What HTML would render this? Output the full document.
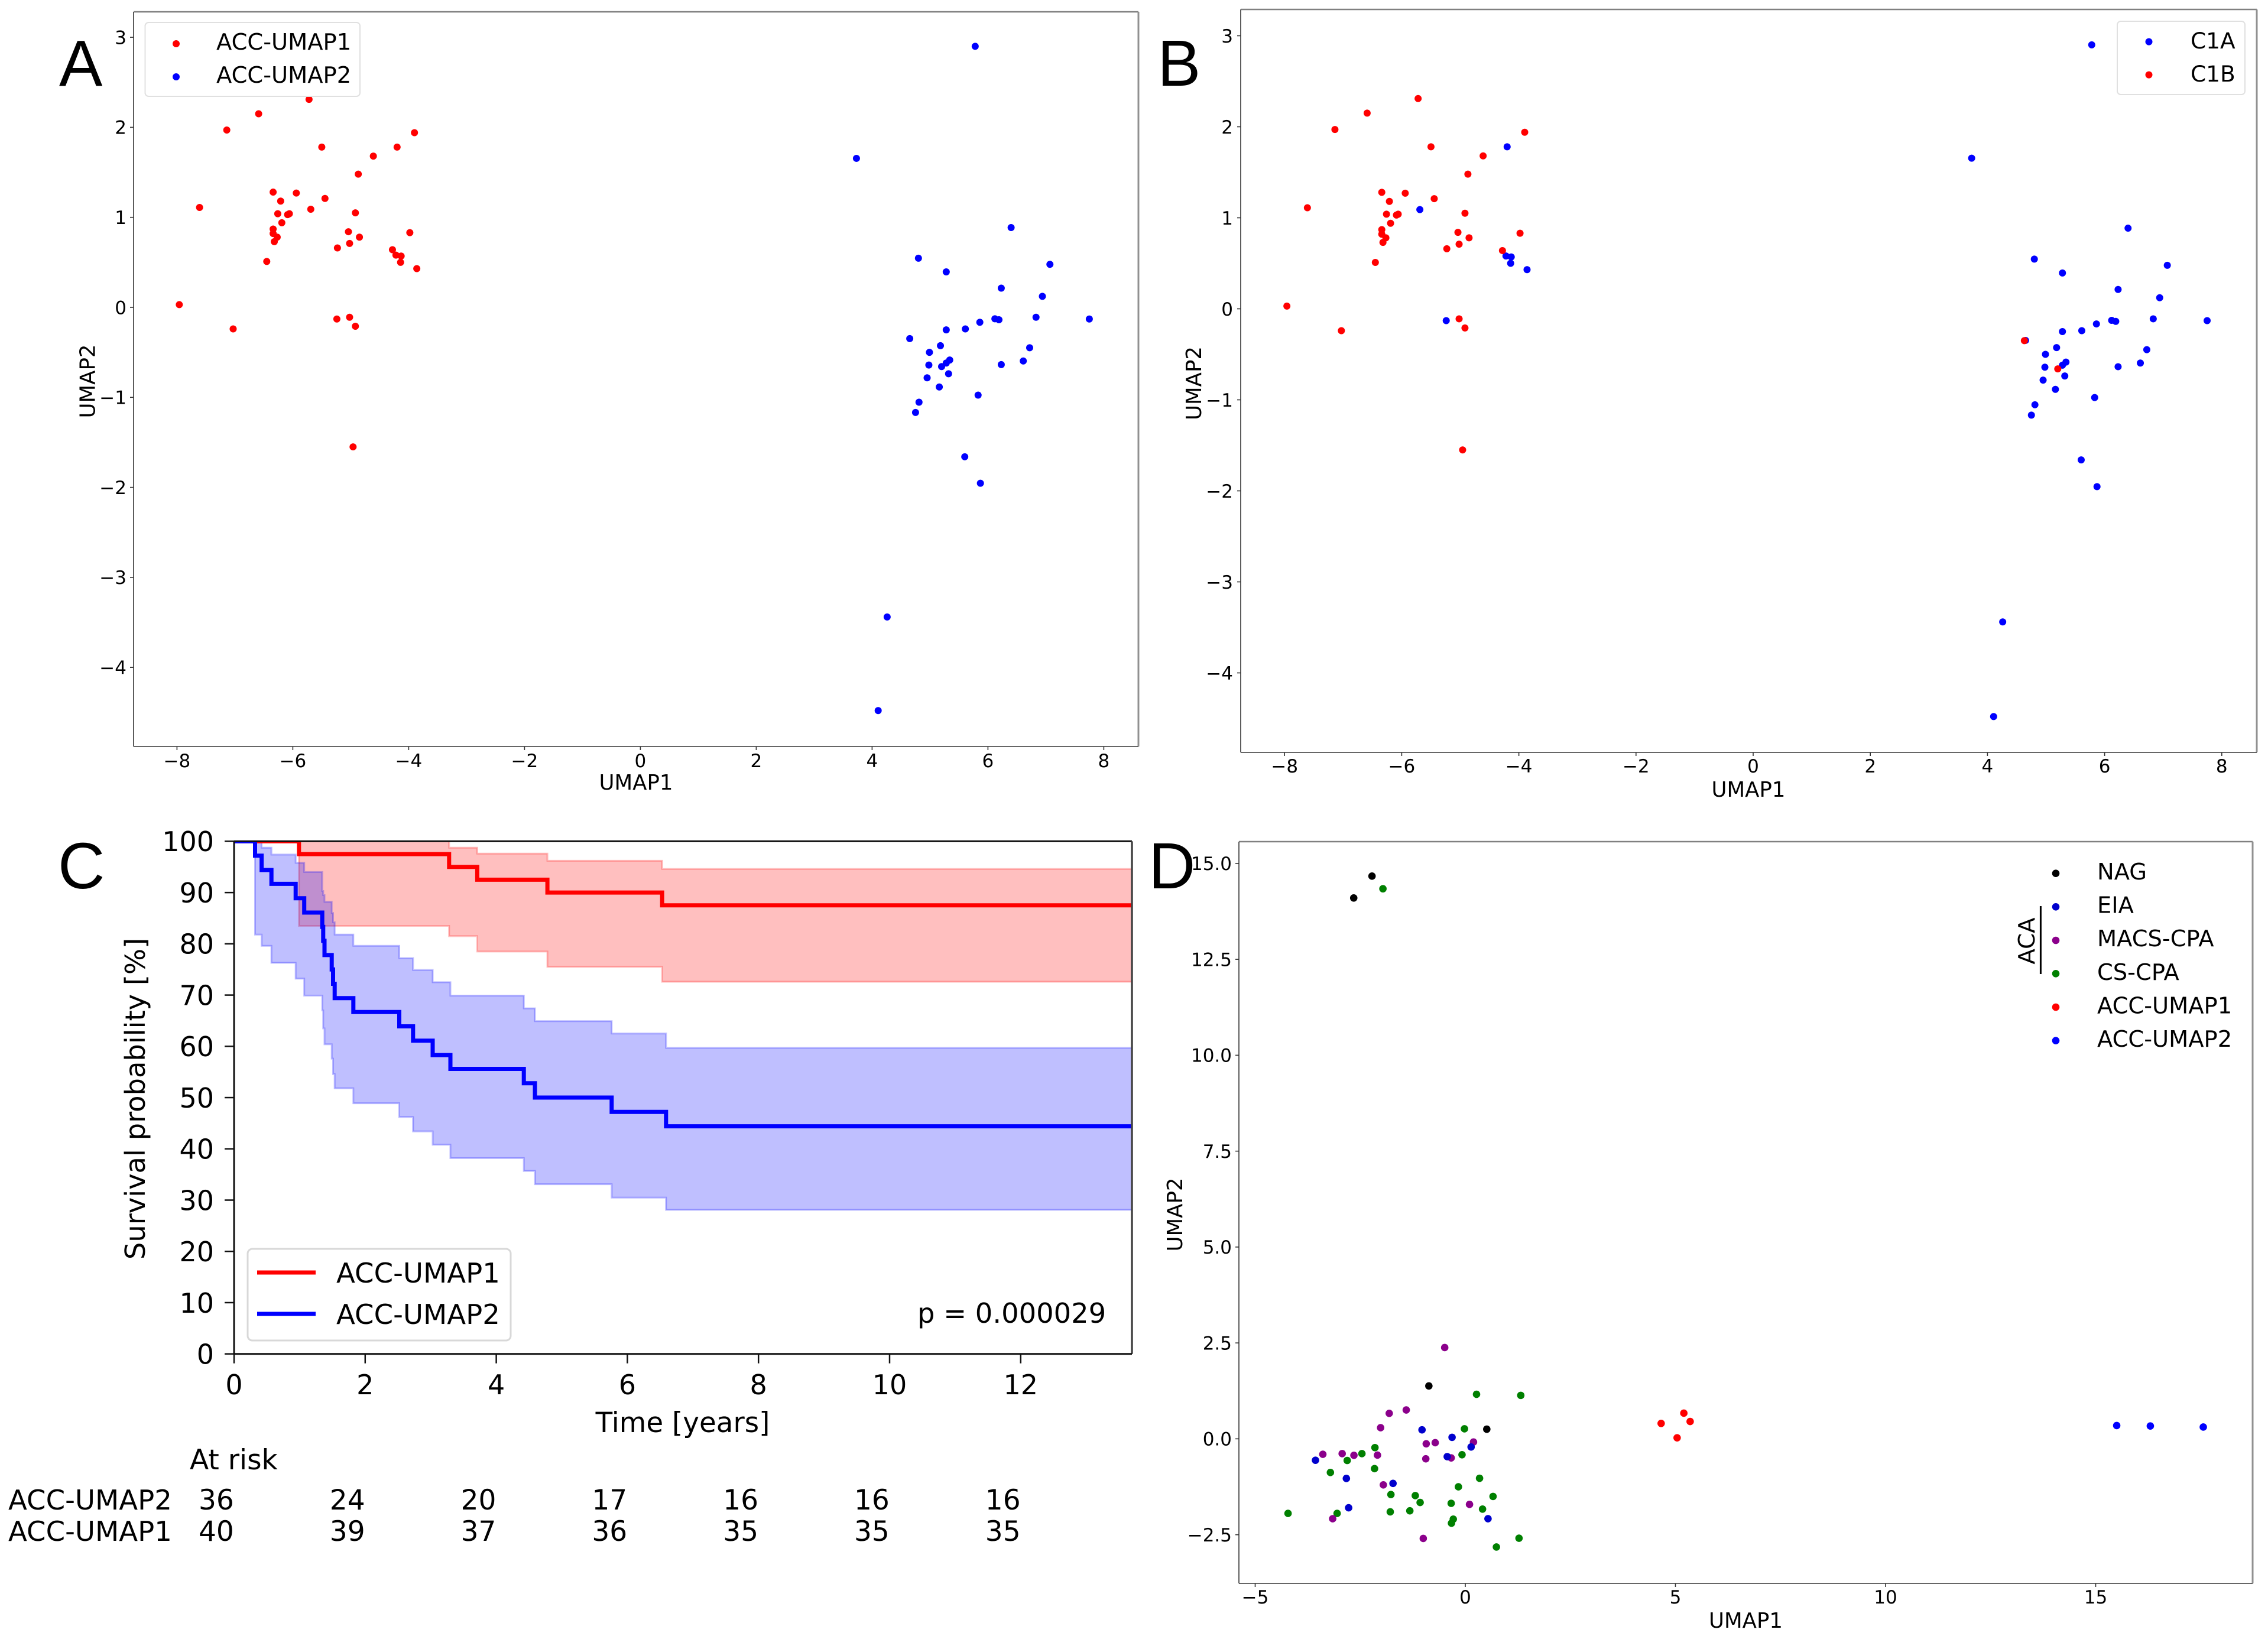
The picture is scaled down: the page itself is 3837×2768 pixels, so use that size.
<!DOCTYPE html>
<html lang="en">
<head>
<meta charset="utf-8">
<title>ACC UMAP and survival figure</title>
<style>
html,body{margin:0;padding:0;background:#fff;width:3837px;height:2768px;overflow:hidden}
svg{display:block}
text{font-family:"DejaVu Sans","Liberation Sans",sans-serif;fill:#000}
.letter{font-family:"Liberation Sans",sans-serif;font-size:110px}
.leg{font-size:38.4px}
.lab{font-size:35.5px}
.kmleg{font-size:46.6px}
</style>
</head>
<body>
<svg id="figure" xmlns="http://www.w3.org/2000/svg" width="3837" height="2768" viewBox="0 0 3837 2768">
  <rect x="0" y="0" width="3837" height="2768" fill="#fff"/>
  <defs>
    <clipPath id="kmClip"><rect x="396" y="1423" width="1519" height="868"/></clipPath>
  </defs>

  <g id="panelA"></g>
  <g id="panelB"></g>
  <g id="panelC"></g>
  <g id="panelD"></g>

  <g id="staticLayer">
    <text class="letter" x="100" y="145">A</text>
    <text class="letter" x="1958" y="145">B</text>
    <text class="letter" x="98" y="1503">C</text>
    <text class="letter" x="1943" y="1503">D</text>

    <text class="lab" x="1076" y="1336" text-anchor="middle">UMAP1</text>
    <text class="lab" transform="translate(160.7 645) rotate(-90)" text-anchor="middle">UMAP2</text>
    <text class="lab" x="2958" y="1348" text-anchor="middle">UMAP1</text>
    <text class="lab" transform="translate(2032 648.5) rotate(-90)" text-anchor="middle">UMAP2</text>
    <text class="lab" x="2953.5" y="2754" text-anchor="middle">UMAP1</text>
    <text class="lab" transform="translate(2000 2055) rotate(-90)" text-anchor="middle">UMAP2</text>

    <text font-size="46.4" transform="translate(245 1859) rotate(-90)" text-anchor="middle">Survival probability [%]</text>
    <text font-size="46.8" x="1155" y="2423" text-anchor="middle">Time [years]</text>
    <text font-size="46.4" x="1552" y="2238">p = 0.000029</text>

    <text font-size="47" x="321" y="2486">At risk</text>
    <text font-size="46.6" x="14" y="2554">ACC-UMAP2</text>
    <text font-size="46.6" x="14" y="2607">ACC-UMAP1</text>

    <g>
      <rect x="245.5" y="38" width="363.5" height="125" rx="6" fill="#fff" fill-opacity="0.8" stroke="#e0e0e0" stroke-width="2"/>
      <circle cx="298" cy="74" r="6" fill="#ff0000"/>
      <text class="leg" x="366" y="84">ACC-UMAP1</text>
      <circle cx="298" cy="130" r="6" fill="#0000ff"/>
      <text class="leg" x="366" y="140">ACC-UMAP2</text>
    </g>

    <g>
      <rect x="3582" y="36" width="216" height="124" rx="6" fill="#fff" fill-opacity="0.8" stroke="#e0e0e0" stroke-width="2"/>
      <circle cx="3635.5" cy="70.6" r="6" fill="#0000ff"/>
      <text font-size="37.5" x="3706" y="82">C1A</text>
      <circle cx="3635.5" cy="126.6" r="6" fill="#ff0000"/>
      <text font-size="37.5" x="3706" y="138">C1B</text>
    </g>

    <g>
      <rect x="419" y="2113" width="445" height="155" rx="8" fill="#fff" fill-opacity="0.8" stroke="#d8d8d8" stroke-width="3"/>
      <line x1="435" x2="534" y1="2153" y2="2153" stroke="#ff0000" stroke-width="7"/>
      <text class="kmleg" x="569" y="2170">ACC-UMAP1</text>
      <line x1="435" x2="534" y1="2223" y2="2223" stroke="#0000ff" stroke-width="7"/>
      <text class="kmleg" x="569" y="2240">ACC-UMAP2</text>
    </g>

    <g>
      <circle cx="3478" cy="1477.7" r="6.3" fill="#000"/>
      <text class="leg" x="3548" y="1488">NAG</text>
      <circle cx="3478" cy="1534.3" r="6.3" fill="#0000cd"/>
      <text class="leg" x="3548" y="1544.6">EIA</text>
      <circle cx="3478" cy="1591" r="6.3" fill="#8b008b"/>
      <text class="leg" x="3548" y="1601.2">MACS-CPA</text>
      <circle cx="3478" cy="1647.3" r="6.3" fill="#008000"/>
      <text class="leg" x="3548" y="1657.8">CS-CPA</text>
      <circle cx="3478" cy="1704" r="6.3" fill="#ff0000"/>
      <text class="leg" x="3548" y="1714.4">ACC-UMAP1</text>
      <circle cx="3478" cy="1760.7" r="6.3" fill="#0000ff"/>
      <text class="leg" x="3548" y="1771">ACC-UMAP2</text>
      <text font-size="38.7" transform="translate(3442 1592) rotate(-90)" text-anchor="middle">ACA</text>
      <line x1="3452.4" x2="3452.4" y1="1533" y2="1648" stroke="#000" stroke-width="3"/>
    </g>
  </g>
</svg>

<script>
/* ---------- Panel A data ---------- */
const acc1X = [-5.72,-6.59,-7.14,-5.50,-4.20,-3.90,-4.61,-4.87,-6.34,-5.94,-6.21,-5.445,-7.61,-5.69,-6.26,-6.09,-6.06,-4.92,-6.19,-6.34,-6.34,-6.27,-6.32,-5.04,-4.85,-3.98,-5.23,-5.02,-4.28,-4.22,-4.13,-4.14,-3.86,-6.45,-7.96,-7.03,-5.24,-5.02,-4.92,-4.96];
const acc1Y = [2.31,2.15,1.97,1.78,1.78,1.94,1.68,1.48,1.28,1.27,1.18,1.21,1.11,1.09,1.04,1.03,1.04,1.05,0.94,0.87,0.82,0.78,0.73,0.84,0.78,0.83,0.66,0.71,0.64,0.58,0.57,0.50,0.43,0.51,0.03,-0.24,-0.13,-0.11,-0.21,-1.55];
const acc2X = [5.78,3.73,6.40,4.80,5.28,7.07,6.23,6.94,6.83,7.75,6.12,6.19,5.86,5.61,5.28,4.65,5.18,4.99,6.72,6.61,6.23,4.98,5.34,5.28,5.20,5.32,4.95,5.16,5.83,4.81,4.75,5.60,5.87,4.26,4.105];
const acc2Y = [2.90,1.655,0.886,0.546,0.394,0.478,0.213,0.122,-0.11,-0.13,-0.127,-0.138,-0.166,-0.24,-0.25,-0.347,-0.426,-0.50,-0.449,-0.596,-0.636,-0.641,-0.585,-0.619,-0.658,-0.738,-0.783,-0.885,-0.975,-1.054,-1.168,-1.66,-1.954,-3.44,-4.48];
const umapAXTicks = [-8,-6,-4,-2,0,2,4,6,8];
const umapAYTicks = [-4,-3,-2,-1,0,1,2,3];

/* ---------- Panel B data ---------- */
const c1aX = [-4.20,-5.69,-5.24,-4.22,-4.13,-4.14,-3.86,5.78,3.73,6.40,4.80,5.28,7.07,6.23,6.94,6.83,7.75,6.12,6.19,5.86,5.61,5.28,4.65,5.18,4.99,6.72,6.61,6.23,4.98,5.34,5.28,5.32,4.95,5.16,5.83,4.81,4.75,5.60,5.87,4.26,4.105];
const c1aY = [1.78,1.09,-0.13,0.58,0.57,0.50,0.43,2.90,1.655,0.886,0.546,0.394,0.478,0.213,0.122,-0.11,-0.13,-0.127,-0.138,-0.166,-0.24,-0.25,-0.347,-0.426,-0.50,-0.449,-0.596,-0.636,-0.641,-0.585,-0.619,-0.738,-0.783,-0.885,-0.975,-1.054,-1.168,-1.66,-1.954,-3.44,-4.48];
const c1bX = [-5.72,-6.59,-7.14,-5.50,-3.90,-4.61,-4.87,-6.34,-5.94,-6.21,-5.445,-7.61,-6.26,-6.09,-6.06,-4.92,-6.19,-6.34,-6.34,-6.27,-6.32,-5.04,-4.85,-3.98,-5.23,-5.02,-4.28,-6.45,-7.96,-7.03,-5.02,-4.92,-4.96,4.63,5.20];
const c1bY = [2.31,2.15,1.97,1.78,1.94,1.68,1.48,1.28,1.27,1.18,1.21,1.11,1.04,1.03,1.04,1.05,0.94,0.87,0.82,0.78,0.73,0.84,0.78,0.83,0.66,0.71,0.64,0.51,0.03,-0.24,-0.11,-0.21,-1.55,-0.35,-0.66];
const umapBXTicks = [-8,-6,-4,-2,0,2,4,6,8];
const umapBYTicks = [-4,-3,-2,-1,0,1,2,3];

/* ---------- Panel C data ---------- */
const blueTimes = [0,0.32,0.42,0.57,0.94,1.07,1.345,1.36,1.38,1.49,1.51,1.535,1.82,2.52,2.73,3.03,3.30,4.42,4.59,5.76,6.59];
const blueSurvival = [100,97.2,94.4,91.7,88.9,86.1,83.3,80.6,77.8,75,72.2,69.4,66.7,63.9,61.1,58.3,55.6,52.8,50,47.2,44.4];
const blueUpper = [100,100,98.75,97.4,95.8,94,90.3,89.5,88.2,86,84.2,81.8,79.6,77.2,74.9,72.5,69.9,67.4,64.9,62.5,59.7];
const blueLower = [100,81.8,79.6,76.3,73.2,69.9,67,63.5,60.4,57.6,54.6,51.8,48.9,46.2,43.4,40.8,38.2,35.7,33.1,30.5,28.1];
const redTimes = [0,0.99,3.28,3.71,4.78,6.53];
const redSurvival = [100,97.5,95,92.5,90,87.5];
const redUpper = [100,100,98.75,97.6,96.2,94.6];
const redLower = [100,83.5,81.5,78.5,75.5,72.6];
const kmEndTime = 13.7;
const kmXTicks = [0,2,4,6,8,10,12];
const kmYTicks = [0,10,20,30,40,50,60,70,80,90,100];
const atRiskTimes = [0,2,4,6,8,10,12];
const atRiskUmap2 = [36,24,20,17,16,16,16];
const atRiskUmap1 = [40,39,37,36,35,35,35];

/* ---------- Panel D data ---------- */
const nagX = [-0.867,0.511,-2.22,-2.655];
const nagY = [1.379,0.251,14.67,14.10];
const eiaX = [-1.03,-0.315,0.138,-3.565,-0.43,-2.83,-1.72,-2.776,0.54];
const eiaY = [0.234,0.039,-0.213,-0.559,-0.464,-1.033,-1.162,-1.798,-2.083];
const macsX = [-0.49,-1.405,-1.81,-2.015,-0.93,-0.716,0.195,-3.39,-2.93,-2.65,-2.09,-0.94,-0.336,-1.95,0.10,-3.156,-1.00];
const macsY = [2.38,0.753,0.664,0.29,-0.129,-0.101,-0.084,-0.403,-0.386,-0.43,-0.425,-0.52,-0.497,-1.20,-1.709,-2.083,-2.597];
const csX = [0.267,1.32,-0.02,-2.15,-2.46,-2.81,-0.078,-3.21,-2.16,0.339,-0.164,-1.77,-1.19,-1.075,0.66,-0.336,0.41,-1.32,-1.786,-4.218,-3.05,-0.286,-0.329,1.278,0.74,-1.96];
const csY = [1.161,1.133,0.262,-0.229,-0.386,-0.564,-0.414,-0.877,-0.777,-1.028,-1.251,-1.452,-1.48,-1.659,-1.502,-1.681,-1.832,-1.877,-1.904,-1.944,-1.944,-2.094,-2.20,-2.591,-2.82,14.34];
const dAcc1X = [5.20,5.35,4.66,5.04];
const dAcc1Y = [0.669,0.452,0.402,0.027];
const dAcc2X = [15.50,16.30,17.56];
const dAcc2Y = [0.346,0.335,0.307];
const umapDXTicks = [-5,0,5,10,15];
const umapDYTicks = [-2.5,0,2.5,5,7.5,10,12.5,15];

/* ---------- Helpers ---------- */
const SVG_NS = 'http://www.w3.org/2000/svg';
function make(tag, attrs, parent, name) {
  const el = document.createElementNS(SVG_NS, tag);
  for (const k in attrs) el.setAttribute(k, attrs[k]);
  
  
  parent.appendChild(el);
  return el;
}
function fmt(v, digits) {
  const s = Math.abs(v).toFixed(digits);
  return (v < 0 ? '\u2212' : '') + s;
}
function drawScatter(parent, xs, ys, sx, sy, color, r, name) {
  xs.forEach(function (x, i) {
    make('circle', {cx: sx(x), cy: sy(ys[i]), r: r, fill: color}, parent, name);
  });
}
function drawAxes(parent, box, sx, sy, xTicks, yTicks, o) {
  const prefix = o.prefix;
  const L = box.left, R = box.right, T = box.top, B = box.bottom;
  make('line', {x1: L, x2: R, y1: T, y2: T, stroke: o.topColor, 'stroke-width': o.topWidth}, parent, prefix + '-spine-top');
  make('line', {x1: R, x2: R, y1: T, y2: B, stroke: o.rightColor, 'stroke-width': o.rightWidth}, parent, prefix + '-spine-right');
  make('line', {x1: L, x2: L, y1: T, y2: B, stroke: o.axisColor, 'stroke-width': o.axisWidth}, parent, prefix + '-spine-left');
  make('line', {x1: L, x2: R, y1: B, y2: B, stroke: o.axisColor, 'stroke-width': o.axisWidth}, parent, prefix + '-spine-bottom');
  xTicks.forEach(function (v) {
    const x = sx(v);
    make('line', {x1: x, x2: x, y1: B, y2: B + o.tickLen, stroke: o.axisColor, 'stroke-width': o.tickWidth}, parent, prefix + '-x-tick');
    const t = make('text', {x: x, y: o.xLabelY, 'text-anchor': 'middle', 'font-size': o.fontSize}, parent, prefix + '-x-tick-label');
    t.textContent = fmt(v, o.xDigits);
  });
  yTicks.forEach(function (v) {
    const y = sy(v);
    make('line', {x1: L - o.tickLen, x2: L, y1: y, y2: y, stroke: o.axisColor, 'stroke-width': o.tickWidth}, parent, prefix + '-y-tick');
    const t = make('text', {x: o.yLabelX, y: y + o.fontSize * 0.365, 'text-anchor': 'end', 'font-size': o.fontSize}, parent, prefix + '-y-tick-label');
    t.textContent = fmt(v, o.yDigits);
  });
}
function stepPoints(times, values, endTime, sx, sy) {
  let pts = [];
  times.forEach(function (t, i) {
    if (i > 0) pts.push([sx(t), sy(values[i - 1])]);
    pts.push([sx(t), sy(values[i])]);
  });
  pts.push([sx(endTime), sy(values[values.length - 1])]);
  return pts;
}
function toPath(pts) {
  return pts.map(function (p, i) { return (i ? 'L' : 'M') + p[0].toFixed(1) + ' ' + p[1].toFixed(1); }).join(' ');
}

/* ---------- Panel A ---------- */
const axA = document.getElementById('panelA');
const sxA = function (v) { return 1083.4 + 98 * v; };
const syA = function (v) { return 520 - 152.3 * v; };
drawScatter(axA, acc1X, acc1Y, sxA, syA, '#ff0000', 6, 'acc-umap1-point');
drawScatter(axA, acc2X, acc2Y, sxA, syA, '#0000ff', 6, 'acc-umap2-point');
drawAxes(axA, {left: 226, right: 1926, top: 20, bottom: 1263}, sxA, syA, umapAXTicks, umapAYTicks, {
  prefix: 'panel-a', topColor: '#808080', topWidth: 2.5, rightColor: '#909090', rightWidth: 3,
  axisColor: '#333', axisWidth: 1.6, tickWidth: 1.6, tickLen: 6, fontSize: 31,
  xLabelY: 1298, yLabelX: 214, xDigits: 0, yDigits: 0
});

/* ---------- Panel B ---------- */
const axB = document.getElementById('panelB');
const sxB = function (v) { return 2966 + 99.1 * v; };
const syB = function (v) { return 522.5 - 154 * v; };
drawScatter(axB, c1aX, c1aY, sxB, syB, '#0000ff', 6, 'c1a-point');
drawScatter(axB, c1bX, c1bY, sxB, syB, '#ff0000', 6, 'c1b-point');
drawAxes(axB, {left: 2099, right: 3818, top: 16, bottom: 1273}, sxB, syB, umapBXTicks, umapBYTicks, {
  prefix: 'panel-b', topColor: '#808080', topWidth: 2.5, rightColor: '#909090', rightWidth: 3,
  axisColor: '#333', axisWidth: 1.6, tickWidth: 1.6, tickLen: 6, fontSize: 31,
  xLabelY: 1307, yLabelX: 2086, xDigits: 0, yDigits: 0
});

/* ---------- Panel C ---------- */
const axC = document.getElementById('panelC');
const sxC = function (v) { return 396 + 110.9 * v; };
const syC = function (v) { return 2290.7 - 8.673 * v; };
const clipC = make('g', {'clip-path': 'url(#kmClip)'}, axC, 'survival-curves');
function drawBand(times, upper, lower, color, name) {
  const up = stepPoints(times, upper, kmEndTime, sxC, syC);
  const low = stepPoints(times, lower, kmEndTime, sxC, syC).reverse();
  make('path', {d: toPath(up.concat(low)) + ' Z', fill: color, 'fill-opacity': 0.25, stroke: color, 'stroke-opacity': 0.25, 'stroke-width': 3}, clipC, name);
}
function drawCurve(times, values, color, name) {
  make('path', {d: toPath(stepPoints(times, values, kmEndTime, sxC, syC)), fill: 'none', stroke: color, 'stroke-width': 7, 'stroke-linejoin': 'miter'}, clipC, name);
}
drawBand(redTimes, redUpper, redLower, '#ff0000', 'acc-umap1-confidence-band');
drawBand(blueTimes, blueUpper, blueLower, '#0000ff', 'acc-umap2-confidence-band');
drawCurve(redTimes, redSurvival, '#ff0000', 'acc-umap1-survival-curve');
drawCurve(blueTimes, blueSurvival, '#0000ff', 'acc-umap2-survival-curve');
drawAxes(axC, {left: 396, right: 1915, top: 1423.4, bottom: 2290.7}, sxC, syC, kmXTicks, kmYTicks, {
  prefix: 'panel-c', topColor: '#111', topWidth: 3, rightColor: '#444', rightWidth: 3.5,
  axisColor: '#111', axisWidth: 3, tickWidth: 2.5, tickLen: 16, fontSize: 46,
  xLabelY: 2359, yLabelX: 362, xDigits: 0, yDigits: 0
});
atRiskTimes.forEach(function (t, i) {
  const top = make('text', {x: sxC(t) - 60, y: 2554, 'font-size': 47}, axC, 'at-risk-count-acc-umap2');
  top.textContent = atRiskUmap2[i];
  const bottom = make('text', {x: sxC(t) - 60, y: 2607, 'font-size': 47}, axC, 'at-risk-count-acc-umap1');
  bottom.textContent = atRiskUmap1[i];
});

/* ---------- Panel D ---------- */
const axD = document.getElementById('panelD');
const sxD = function (v) { return 2479 + 71.1 * v; };
const syD = function (v) { return 2434.4 - 64.9 * v; };
drawScatter(axD, csX, csY, sxD, syD, '#008000', 6.3, 'cs-cpa-point');
drawScatter(axD, macsX, macsY, sxD, syD, '#8b008b', 6.3, 'macs-cpa-point');
drawScatter(axD, eiaX, eiaY, sxD, syD, '#0000cd', 6.3, 'eia-point');
drawScatter(axD, nagX, nagY, sxD, syD, '#000000', 6.3, 'nag-point');
drawScatter(axD, dAcc1X, dAcc1Y, sxD, syD, '#ff0000', 6.3, 'd-acc-umap1-point');
drawScatter(axD, dAcc2X, dAcc2Y, sxD, syD, '#0000ff', 6.3, 'd-acc-umap2-point');
drawAxes(axD, {left: 2096, right: 3811, top: 1424, bottom: 2679}, sxD, syD, umapDXTicks, umapDYTicks, {
  prefix: 'panel-d', topColor: '#808080', topWidth: 2.5, rightColor: '#909090', rightWidth: 3,
  axisColor: '#333', axisWidth: 1.6, tickWidth: 1.6, tickLen: 6, fontSize: 31,
  xLabelY: 2713, yLabelX: 2084, xDigits: 0, yDigits: 1
});

/* Keep legends and labels above the data marks */
const figure = document.getElementById('figure');
figure.appendChild(document.getElementById('staticLayer'));
</script>
</body>
</html>
